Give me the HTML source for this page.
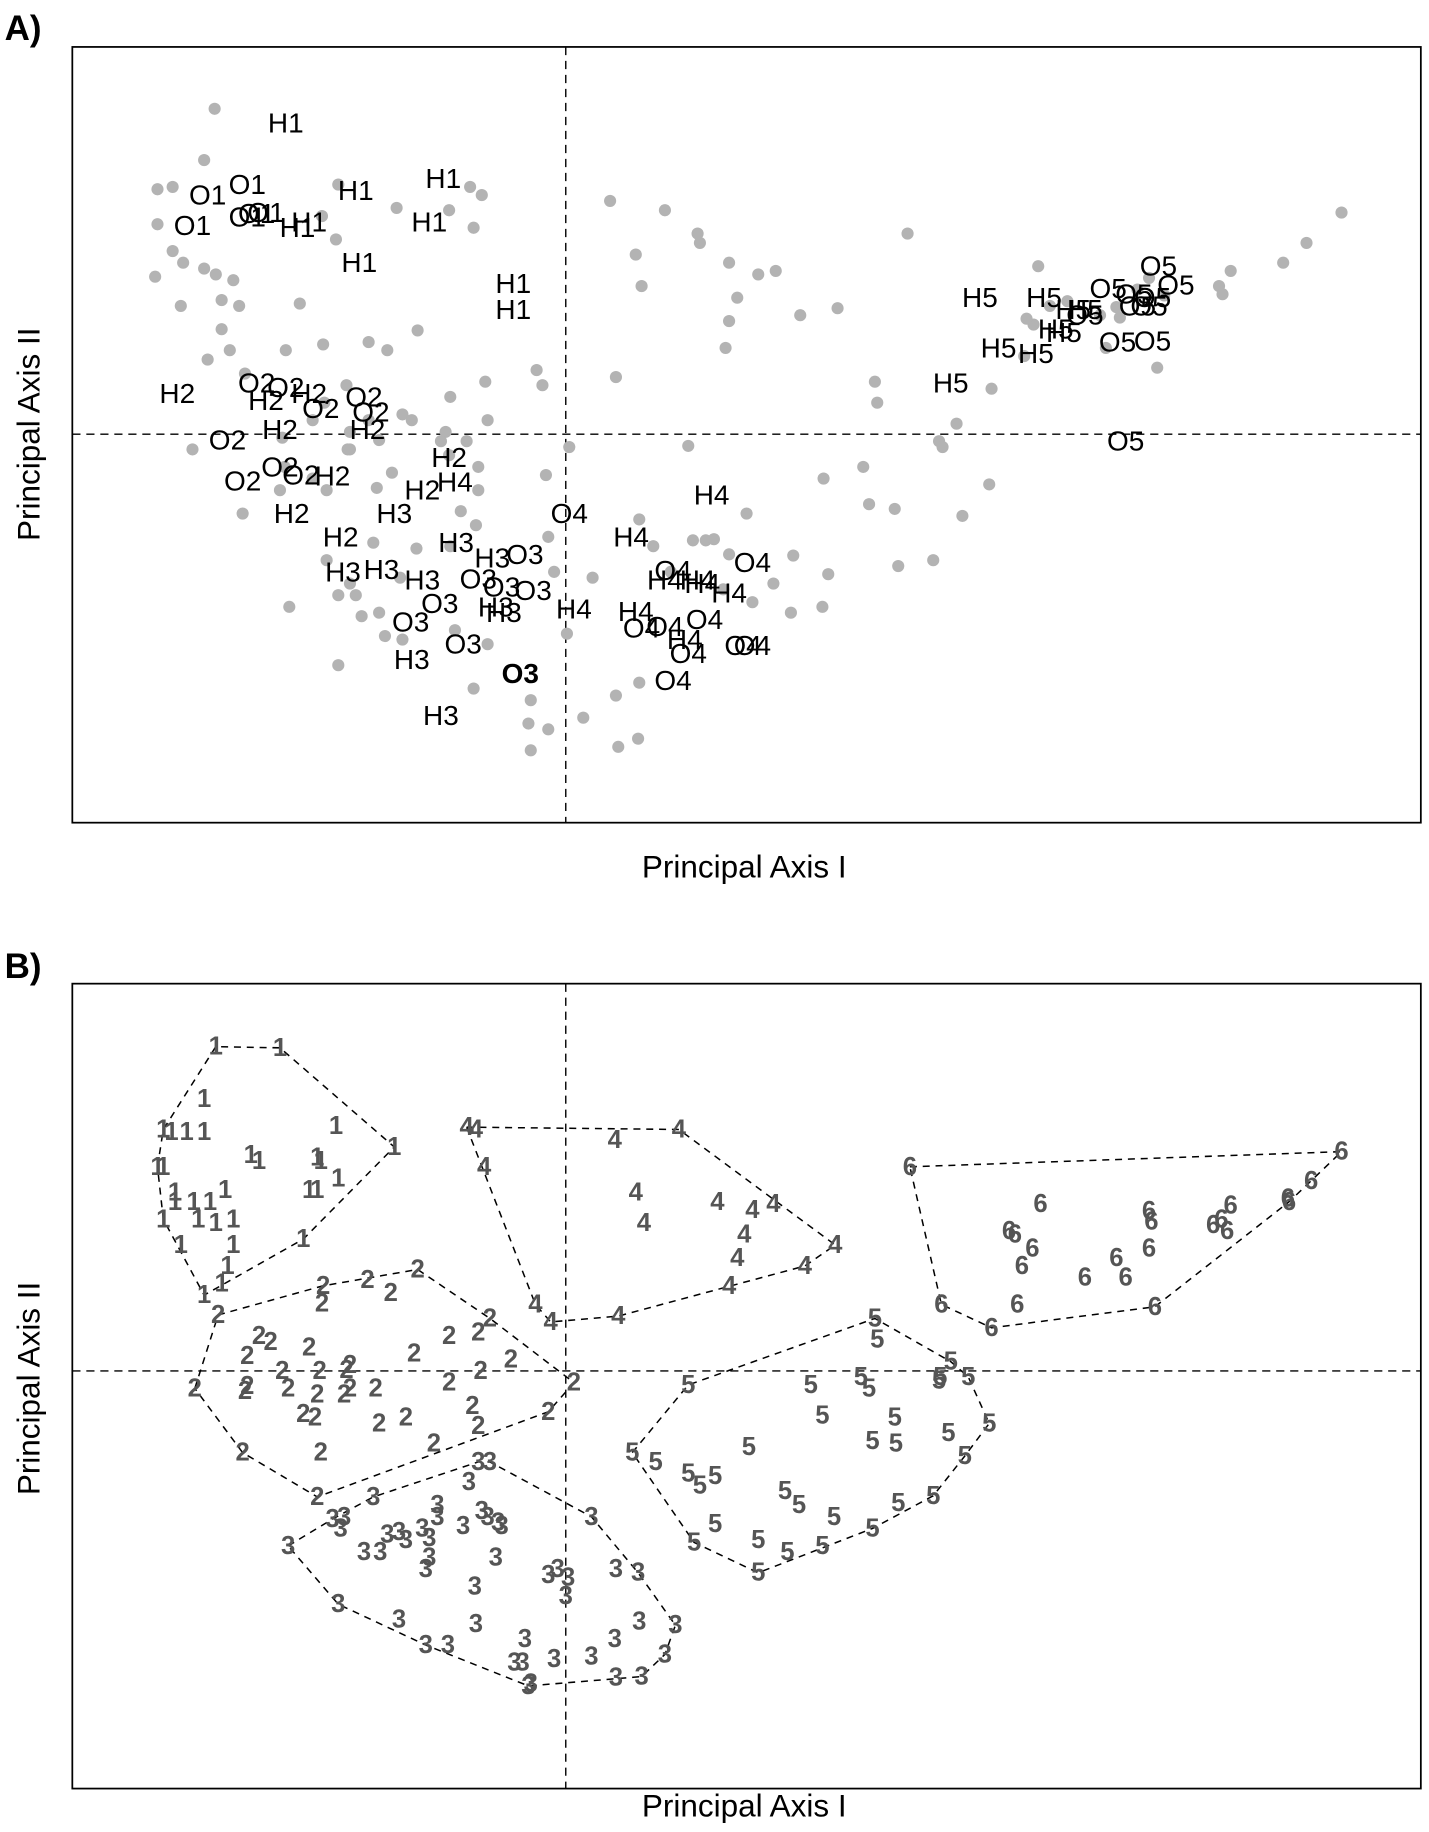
<!DOCTYPE html>
<html><head><meta charset="utf-8"><style>
html,body{margin:0;padding:0;background:#fff;}
svg{display:block;font-family:"Liberation Sans",Arial,sans-serif;}
</style></head><body>
<svg id="fig" width="1429" height="1832" viewBox="0 0 1225 1570" xmlns="http://www.w3.org/2000/svg">
<rect width="1225" height="1570" fill="#fff"/>
<text x="4" y="34" font-size="30" font-weight="bold">A)</text>
<text x="4" y="838" font-size="30" font-weight="bold">B)</text>
<g id="pa"></g>
<g id="pb"></g>
<text x="638" y="752" font-size="27" text-anchor="middle">Principal Axis I</text>
<text transform="translate(34,372) rotate(-90)" font-size="27" text-anchor="middle">Principal Axis II</text>
<text x="638" y="1557" font-size="27" text-anchor="middle">Principal Axis I</text>
<text transform="translate(34,1190) rotate(-90)" font-size="27" text-anchor="middle">Principal Axis II</text>
</svg>
<script>
// Panel A: background sample scores (x100)
const grayX=[-301,-310,-350,-337,-350,-337,-328,-310,-300,-285,-352,-330,-295,-280,-228,-295,-307,-288,-275,-240,-208,-169,-153,-127,-82,-72,-195,-145,-100,-79,-197,-209,-25,-20,-69,-99,-67,-188,-207,-217,-185,-187,-160,-169,-140,-132,-103,-320,-277,-243,-245,-241,-217,-205,-185,-162,-149,-107,-100,-85,-75,-75,-90,-77,-99,-128,-165,-205,-195,-185,-180,-160,-175,-155,-142,-237,-195,-140,-95,-79,-67,3,-17,-15,-10,1,-30,-32,-30,-15,15,23,43,63,62,45,63,75,90,109,105,120,127,140,155,135,160,178,195,193,220,225,221,255,260,282,285,315,320,323,335,340,363,365,265,267,293,38,60,65,85,113,115,140,147,140,165,180,233,201,137,43,405,401,393,395,415,458,472,475,490,500,507,513,560,563,570,615,635,665,463,430];
const grayY=[279,235,210,212,180,157,147,142,137,132,135,110,115,110,112,90,64,72,52,72,77,79,72,89,212,205,214,194,192,177,167,187,55,42,45,32,12,42,27,12,2,-13,-5,12,17,12,2,-13,-68,-3,-48,-28,-38,-48,-13,-46,-33,-6,-18,-6,-28,-48,-66,-78,-96,-98,-93,-108,-138,-128,-138,-153,-156,-173,-123,-148,-198,-176,-168,-218,-180,-11,-35,-88,-118,-171,-228,-248,-271,-253,-243,-123,-224,-213,-261,-268,-73,-96,-118,-91,-10,-91,-90,-103,-68,-133,-144,-128,-104,-153,-148,-120,-38,-28,-60,-64,-113,-108,-6,-11,9,-70,-43,39,45,27,172,200,154,127,192,172,164,147,117,97,137,140,108,102,74,49,144,94,67,99,110,102,109,100,124,134,57,119,127,120,140,147,164,190,74,114];
// Panel A: labelled group members
const labText=["H1","O1","O1","O1","H1","H1","H1","H1","H1","H1","O1","O1","O1","H1","H1","H2","O2","O2","O2","O2","O2","H2","H2","H2","H2","H2","H2","H2","H2","H2","O2","O2","O2","O2","H4","H3","H3","H3","H3","H3","H3","H3","H3","H3","H3","O3","O3","O3","O3","O3","O3","O3","O3","O4","O4","O4","O4","O4","O4","O4","O4","O4","O4","H4","H4","H4","H4","H4","H4","H4","H4","H4","H5","H5","H5","H5","H5","H5","H5","H5","H5","O5","O5","O5","O5","O5","O5","O5","O5","O5","O5","O5"];
const labX=[-240,-273,-307,-320,-180,-105,-117,-177,-45,-45,-265,-257,-273,-220,-230,-333,-265,-240,-173,-167,-210,-257,-220,-245,-170,-100,-123,-200,-235,-193,-290,-277,-245,-227,-95,-147,-94,-191,-158,-123,-132,-107,-63,-60,-53,-35,-75,-55,-28,-108,-133,-88,-39,3,160,92,65,85,119,152,160,105,92,125,56,85,113,117,140,7,60,102,355,410,435,445,420,427,371,403,330,508,523,465,487,503,500,490,445,473,503,480];
const labY=[267,214,205,179,209,219,182,147,129,107,189,190,186,182,177,35,44,40,32,19,22,29,35,4,4,-20,-48,-36,-68,-88,-5,-40,-28,-35,-41,-68,-93,-118,-116,-125,-193,-241,-106,-148,-153,-103,-124,-131,-134,-145,-161,-180,-205,-68,-110,-117,-166,-165,-159,-181,-181,-188,-211,-52,-88,-125,-125,-128,-136,-150,-152,-176,117,117,107,107,90,87,74,69,44,144,128,125,120,117,110,110,102,79,80,-6];
const labBold=[52];
// Panel B: clusters
const c1x=[-300,-245,-310,-345,-338,-325,-310,-345,-197,-147,-270,-263,-213,-210,-350,-335,-335,-319,-305,-345,-315,-300,-285,-292,-213,-195,-285,-330,-225,-290,-295,-310,-220];
const c1y=[278,277,233,207,205,205,205,175,210,192,185,180,183,180,175,153,145,145,145,130,130,127,130,155,155,165,108,108,113,90,75,65,155];
const c2x=[-298,-208,-170,-150,-127,-209,-65,-75,-100,-263,-253,-273,-220,-185,-188,-211,-243,-273,-275,-238,-213,-185,-163,-190,-130,-73,-47,-100,7,-215,-225,-160,-137,-80,-75,-15,-113,-277,-210,-213,-318];
const c2y=[48,73,78,67,87,58,45,33,30,30,25,13,20,5,1,0,0,-13,-17,-15,-20,-15,-15,-20,15,0,10,-10,-10,-40,-37,-45,-40,-30,-47,-35,-62,-70,-70,-108,-15];
const c3x=[-75,-65,-83,-72,-67,-110,-200,-190,-193,-165,-153,-143,-137,-123,-117,-117,-120,-110,-88,-58,-55,-173,-159,-238,-60,22,-15,-7,0,2,43,62,-78,-195,-143,-77,-120,-35,-10,22,42,63,94,85,-101,-44,-30,-37,43,65,-32];
const c3y=[-78,-78,-95,-120,-125,-125,-127,-125,-135,-108,-140,-138,-145,-135,-143,-160,-170,-115,-133,-130,-133,-155,-155,-150,-160,-125,-175,-170,-193,-177,-170,-173,-185,-200,-213,-217,-235,-230,-247,-245,-230,-215,-218,-243,-235,-250,-268,-250,-263,-262,-270];
const c4x=[-85,-77,42,97,-70,60,67,130,160,178,153,147,140,205,231,-26,-13,45];
const c4y=[209,207,198,207,175,153,127,145,138,143,117,97,73,90,108,57,42,47];
const c5x=[265,267,330,345,320,321,105,210,253,220,260,282,363,328,342,157,263,283,57,77,105,115,128,188,200,230,285,315,110,128,165,165,190,220,263];
const c5y=[45,27,8,-5,-8,-5,-12,-12,-5,-38,-15,-40,-45,-53,-73,-65,-60,-62,-70,-78,-88,-98,-90,-103,-115,-125,-113,-107,-147,-131,-145,-173,-155,-150,-135];
const c6x=[295,665,639,619,407,500,570,502,562,380,385,555,400,500,391,445,472,480,322,365,387,505,567,620];
const c6y=[175,188,163,148,143,137,142,128,130,120,117,125,105,105,90,80,97,80,57,37,57,55,120,145];
const clusterLabels=["1","2","3","4","5","6"];
const clustersX=[c1x,c2x,c3x,c4x,c5x,c6x];
const clustersY=[c1y,c2y,c3y,c4y,c5y,c6y];

const NS="http://www.w3.org/2000/svg";
const L=62,R=1218,X0=485;
function sx(v){return X0+v;}
function syA(v){return 372-v;}
function syB(v){return 1175-v;}
function mk(parent,tag,attrs){const e=document.createElementNS(NS,tag);for(const k in attrs)e.setAttribute(k,attrs[k]);parent.appendChild(e);return e;}

function frame(g,top,bot,zeroY,pfx){
  const box=mk(g,'rect',{x:L,y:top,width:R-L,height:bot-top,fill:'none',stroke:'#000','stroke-width':1.5});
  
  
  const v=mk(g,'line',{x1:X0,x2:X0,y1:top,y2:bot,stroke:'#000','stroke-width':1.2,'stroke-dasharray':'7,5'});
  
  
  const h=mk(g,'line',{x1:L,x2:R,y1:zeroY,y2:zeroY,stroke:'#000','stroke-width':1.2,'stroke-dasharray':'7,5'});
  
  
}
const pa=document.getElementById('pa'), pb=document.getElementById('pb');
frame(pa,40,705,syA(0),'panel-a');
for(let i=0;i<grayX.length;i++){
  const c=mk(pa,'circle',{cx:sx(grayX[i]),cy:syA(grayY[i]),r:5.2,fill:'#b3b3b3'});
  
  
}
for(let i=0;i<labText.length;i++){
  const t=mk(pa,'text',{x:sx(labX[i]),y:syA(labY[i]),'font-size':24,'text-anchor':'middle','dominant-baseline':'central',fill:'#000'});
  if(labBold.indexOf(i)>=0)t.setAttribute('font-weight','bold');
  t.textContent=labText[i];
  
  
}
frame(pb,843,1533,syB(0),'panel-b');
function hull(pts){
  pts=pts.slice().sort((a,b)=>a[0]-b[0]||a[1]-b[1]);
  const cr=(o,a,b)=>(a[0]-o[0])*(b[1]-o[1])-(a[1]-o[1])*(b[0]-o[0]);
  const lo=[],up=[];
  for(const p of pts){while(lo.length>=2&&cr(lo[lo.length-2],lo[lo.length-1],p)<=0)lo.pop();lo.push(p);}
  for(let i=pts.length-1;i>=0;i--){const p=pts[i];while(up.length>=2&&cr(up[up.length-2],up[up.length-1],p)<=0)up.pop();up.push(p);}
  up.pop();lo.pop();return lo.concat(up);
}
for(let k=0;k<clustersX.length;k++){
  const pts=clustersX[k].map((x,i)=>[sx(x),syB(clustersY[k][i])]);
  const h=hull(pts);
  const poly=mk(pb,'polygon',{points:h.map(p=>p.join(',')).join(' '),fill:'none',stroke:'#000','stroke-width':1.3,'stroke-dasharray':'6,5'});
  
  
  for(const p of pts){
    const t=mk(pb,'text',{x:p[0],y:p[1],'font-size':22,'font-weight':'bold','text-anchor':'middle','dominant-baseline':'central',fill:'#555'});
    t.textContent=clusterLabels[k];
    
    
  }
}
</script>
</body></html>
